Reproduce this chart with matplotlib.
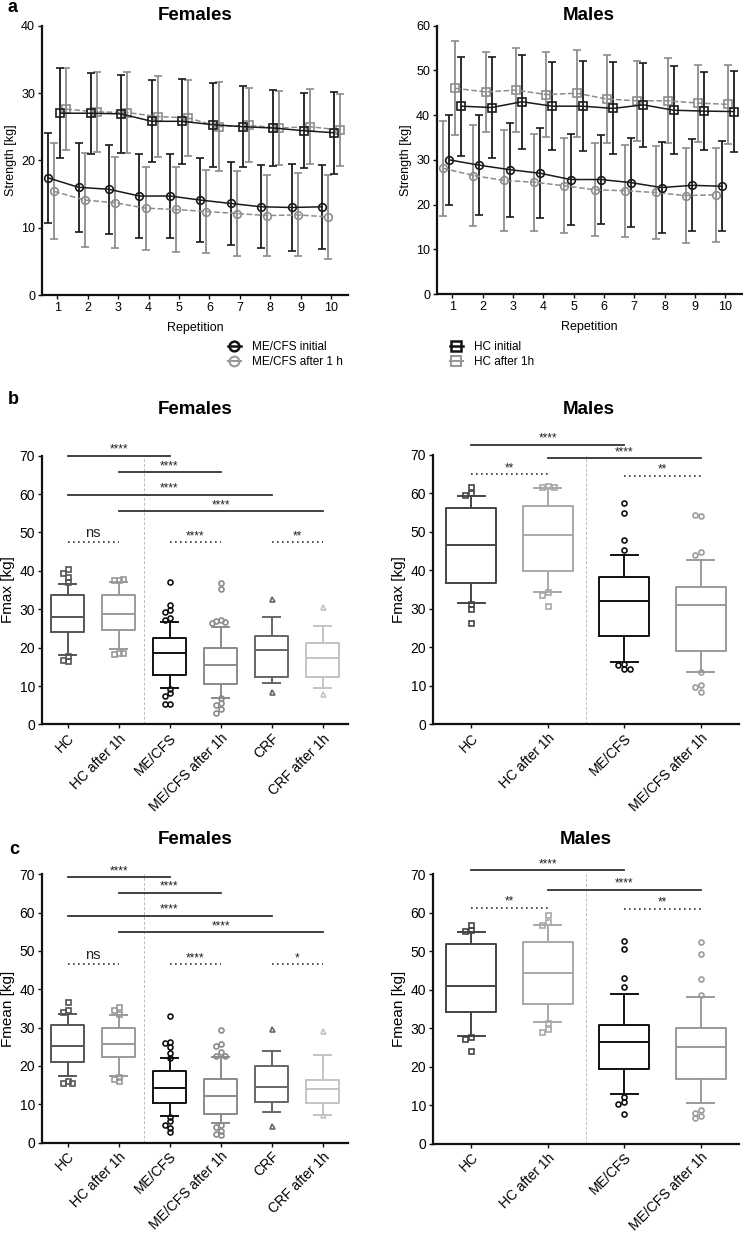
import numpy as np
import matplotlib
matplotlib.use("Agg")
import matplotlib.pyplot as plt
from matplotlib.lines import Line2D

plt.rcParams['font.family'] = ['Liberation Sans', 'DejaVu Sans']

W, H = 743, 1238

#...panel a: mean strength per repetition (and SD).
reps = np.arange(1, 11)

fa_me_init = [17.4, 16.0, 15.7, 14.7, 14.7, 14.1, 13.6, 13.1, 13.0, 13.1]
fa_me_init_sd = [6.7, 6.6, 6.6, 6.2, 6.3, 6.3, 6.1, 6.15, 6.4, 6.25]
fa_me_after = [15.4, 14.1, 13.7, 12.9, 12.7, 12.4, 12.1, 11.8, 11.9, 11.6]
fa_me_after_sd = [7.15, 7.0, 6.75, 6.15, 6.35, 6.1, 6.3, 5.95, 6.15, 6.25]
fa_hc_init = [27.0, 27.0, 26.9, 25.8, 25.8, 25.3, 25.0, 24.8, 24.4, 24.1]
fa_hc_init_sd = [6.7, 6.0, 5.8, 6.1, 6.3, 6.25, 6.0, 5.7, 5.6, 6.1]
fa_hc_after = [27.6, 27.2, 27.1, 26.5, 26.3, 25.0, 25.2, 24.8, 25.0, 24.5]
fa_hc_after_sd = [6.1, 5.95, 5.95, 6.0, 5.7, 6.65, 5.5, 5.45, 5.55, 5.35]

ma_me_init = [30.0, 28.8, 27.8, 27.0, 25.6, 25.6, 24.9, 23.8, 24.3, 24.1]
ma_me_init_sd = [10.0, 11.2, 10.5, 10.1, 10.2, 10.0, 10.0, 10.1, 10.3, 10.1]
ma_me_after = [28.1, 26.5, 25.4, 25.0, 24.2, 23.3, 23.1, 22.7, 22.0, 22.2]
ma_me_after_sd = [10.6, 11.3, 11.2, 10.8, 10.6, 10.4, 10.3, 10.3, 10.6, 10.5]
ma_hc_init = [42.0, 41.7, 43.0, 42.0, 42.0, 41.5, 42.3, 41.1, 40.9, 40.8]
ma_hc_init_sd = [11.1, 11.2, 10.5, 9.9, 10.0, 10.3, 9.4, 9.8, 8.8, 9.0]
ma_hc_after = [46.0, 45.2, 45.6, 44.6, 44.9, 43.6, 43.2, 43.2, 42.7, 42.4]
ma_hc_after_sd = [10.5, 9.0, 9.4, 9.5, 9.7, 9.8, 8.9, 9.5, 8.6, 8.9]

#...panels b and c: box plot summaries.
f_groups = ["HC", "HC after 1h", "ME/CFS", "ME/CFS after 1h", "CRF", "CRF after 1h"]
m_groups = ["HC", "HC after 1h", "ME/CFS", "ME/CFS after 1h"]

# Fmax, females
fb_q1 = [24.2, 24.7, 12.9, 10.5, 12.3, 12.4]
fb_med = [28.0, 28.8, 18.5, 15.5, 19.4, 17.2]
fb_q3 = [33.7, 33.7, 22.5, 19.8, 23.1, 21.3]
fb_lo = [18.1, 19.6, 9.6, 6.9, 10.9, 9.4]
fb_hi = [36.5, 37.2, 26.6, 25.5, 28.1, 25.7]
fb_fliers = [[40.4, 39.4, 38.4, 37.0, 17.9, 16.8, 16.4],
             [37.7, 37.6, 37.8, 18.5, 18.4, 18.6],
             [37.0, 31.2, 29.8, 29.4, 27.6, 27.2, 9.3, 8.2, 7.5, 5.3, 5.2],
             [36.8, 35.2, 27.3, 27.0, 26.6, 26.4, 6.8, 5.5, 5.0, 3.9, 3.0],
             [32.6, 8.4],
             [30.5, 7.8]]

# Fmax, males
mb_q1 = [36.7, 39.7, 23.0, 19.0]
mb_med = [46.6, 49.1, 32.1, 30.9]
mb_q3 = [56.1, 56.7, 38.3, 35.6]
mb_lo = [31.4, 34.4, 16.2, 13.5]
mb_hi = [59.4, 61.3, 44.0, 42.8]
mb_fliers = [[61.8, 60.1, 59.5, 31.2, 30.0, 26.3],
             [61.9, 61.6, 61.8, 34.3, 33.6, 30.8],
             [57.5, 54.8, 47.9, 45.3, 15.5, 15.3, 14.4, 14.2],
             [54.2, 54.3, 44.8, 44.0, 13.5, 10.2, 9.7, 8.3]]

# Fmean, females
fc_q1 = [20.9, 22.2, 10.3, 7.5, 10.5, 10.4]
fc_med = [25.1, 25.7, 14.1, 12.1, 14.6, 14.0]
fc_q3 = [30.7, 29.8, 18.7, 16.5, 20.0, 16.4]
fc_lo = [17.3, 17.4, 7.0, 5.2, 8.0, 7.2]
fc_hi = [33.5, 33.4, 22.0, 22.4, 23.9, 22.8]
fc_fliers = [[36.8, 34.7, 34.0, 16.0, 15.4, 15.4],
             [35.4, 34.7, 33.6, 17.2, 16.7, 16.0],
             [33.0, 26.3, 25.9, 24.8, 23.3, 22.0, 6.7, 5.6, 4.6, 3.9, 2.7],
             [29.3, 25.6, 25.3, 23.5, 22.7, 22.6, 4.6, 4.0, 3.1, 2.3, 1.9],
             [29.6, 4.4],
             [29.0, 7.2]]

# Fmean, males
mc_q1 = [34.3, 36.3, 19.5, 16.7]
mc_med = [41.0, 44.3, 26.5, 25.2]
mc_q3 = [52.0, 52.4, 30.7, 30.0]
mc_lo = [28.0, 31.5, 12.9, 10.5]
mc_hi = [55.0, 56.8, 38.9, 38.2]
mc_fliers = [[56.7, 55.6, 55.3, 27.6, 27.2, 24.0],
             [59.3, 57.6, 56.8, 31.4, 29.9, 28.9],
             [52.7, 50.6, 43.0, 40.8, 12.2, 10.9, 10.3, 7.7],
             [52.4, 49.2, 42.7, 38.6, 8.6, 7.9, 7.2, 6.7]]

#...significance annotations: (group from, group to, y, label, solid?)
fb_sig = [(0, 2, 70.0, "****", True), (1, 3, 65.7, "****", True),
          (0, 4, 59.8, "****", True), (1, 5, 55.6, "****", True),
          (0, 1, 47.5, "ns", False), (2, 3, 47.5, "****", False),
          (4, 5, 47.5, "**", False)]
mb_sig = [(0, 2, 72.7, "****", True), (1, 3, 69.2, "****", True),
          (0, 1, 65.0, "**", False), (2, 3, 64.6, "**", False)]
fc_sig = [(0, 2, 69.2, "****", True), (1, 3, 65.2, "****", True),
          (0, 4, 59.2, "****", True), (1, 5, 54.9, "****", True),
          (0, 1, 46.6, "ns", False), (2, 3, 46.6, "****", False),
          (4, 5, 46.6, "*", False)]
mc_sig = [(0, 2, 71.1, "****", True), (1, 3, 66.0, "****", True),
          (0, 1, 61.3, "**", False), (2, 3, 61.0, "**", False)]

f_colors = ['#555555', '#9a9a9a', '#111111', '#8a8a8a', '#666666', '#c4c4c4']
m_colors = ['#444444', '#a8a8a8', '#111111', '#9a9a9a']
f_markers = ['s', 's', 'o', 'o', '^', '^']
m_markers = ['s', 's', 'o', 'o']


def rect(l, r, t, b):
    """ Pixel box -> figure fraction rectangle. """
    return [l / W, 1 - b / H, (r - l) / W, (b - t) / H]


def style_axes(ax, fs):
    for s in ['top', 'right']:
        ax.spines[s].set_visible(False)
    for s in ['left', 'bottom']:
        ax.spines[s].set_linewidth(1.6)
        ax.spines[s].set_color('#111111')
    ax.tick_params(axis='both', length=3, width=1, labelsize=fs, pad=2, color='#111111')


def draw_lines(ax, series, ymax):
    """ Panel a: mean +- SD curves. """
    for vals, sd, off, col, ls, mk in series:
        ax.errorbar(reps + off, vals, yerr=sd, color=col, ls=ls, lw=1.1,
                    marker=mk, ms=5.5, mfc='none', mew=1.2, elinewidth=1.3,
                    capsize=3, capthick=1.3)
    ax.set_xlim(0.5, 10.55)
    ax.set_ylim(0, ymax)
    ax.set_xticks(reps)
    ax.set_yticks(np.arange(0, ymax + 1, 10))
    ax.set_xlabel("Repetition", fontsize=9, labelpad=6)
    ax.set_ylabel("Strength [kg]", fontsize=9, labelpad=3)
    style_axes(ax, 9)


def dodge(vals, step=0.08):
    """ Spread overlapping outliers sideways. """
    placed = []
    offs = []
    for v in vals:
        for o in [0, -step, step, -2 * step, 2 * step]:
            if all(abs(v - pv) > 1.1 or abs(o - po) > 0.05 for po, pv in placed):
                break
        placed.append((o, v))
        offs.append(o)
    return np.array(offs)


def draw_boxes(ax, names, q1, med, q3, lo, hi, fliers, colors, markers, sig, ylabel):
    pos = np.arange(len(names))
    for i in pos:
        st = dict(med=med[i], q1=q1[i], q3=q3[i], whislo=lo[i], whishi=hi[i], fliers=[])
        c = colors[i]
        lp = dict(color=c, lw=1.4)
        ax.bxp([st], positions=[i], widths=0.66, capwidths=0.35, showfliers=False,
               manage_ticks=False, boxprops=lp, medianprops=lp,
               whiskerprops=lp, capprops=lp)
        fv = np.array(fliers[i])
        ax.plot(i + dodge(fv), fv, ls='none', marker=markers[i], mfc='none',
                mec=c, ms=3.6, mew=1.2, clip_on=False)
    ax.axvline(1.5, color='#bbbbbb', lw=0.7, ls=(0, (3, 2)))
    for a, b, y, lab, solid in sig:
        if solid:
            ax.plot([a, b], [y, y], color='#333333', lw=1.3, clip_on=False)
        else:
            ax.plot([a, b], [y, y], color='#333333', lw=1.2, ls=(0, (1, 2)), clip_on=False)
        fs = 10.5 if lab == "ns" else 8.5
        ax.text((a + b) / 2, y + (0.6 if lab == "ns" else 0.0), lab, ha='center',
                va='bottom', fontsize=fs, color='#222222')
    ax.set_xlim(-0.5, len(names) - 0.5)
    ax.set_ylim(0, 70)
    ax.set_yticks(np.arange(0, 71, 10))
    ax.set_xticks(pos)
    ax.set_xticklabels(names, rotation=45, ha='right', rotation_mode='anchor')
    ax.set_ylabel(ylabel, fontsize=11, labelpad=3)
    style_axes(ax, 10)


fig = plt.figure(figsize=(W / 100, H / 100), dpi=100)

#==========
# Panel a
#==========
ax_af = fig.add_axes(rect(42, 348, 25.7, 295))
draw_lines(ax_af, [
    (fa_me_after, fa_me_after_sd, -0.1, '#8c8c8c', '--', 'o'),
    (fa_hc_after, fa_hc_after_sd, 0.3, '#8c8c8c', '--', 's'),
    (fa_me_init, fa_me_init_sd, -0.3, '#1a1a1a', '-', 'o'),
    (fa_hc_init, fa_hc_init_sd, 0.1, '#1a1a1a', '-', 's')], 40)

ax_am = fig.add_axes(rect(437, 742, 25.7, 294))
draw_lines(ax_am, [
    (ma_me_after, ma_me_after_sd, -0.3, '#8c8c8c', '--', 'o'),
    (ma_hc_after, ma_hc_after_sd, 0.1, '#8c8c8c', '--', 's'),
    (ma_me_init, ma_me_init_sd, -0.1, '#1a1a1a', '-', 'o'),
    (ma_hc_init, ma_hc_init_sd, 0.3, '#1a1a1a', '-', 's')], 60)

# Legend (two columns drawn as two legends).
lkw = dict(frameon=False, fontsize=8.5, handlelength=1.1, handletextpad=0.9,
           labelspacing=0.25, borderpad=0, borderaxespad=0, loc='upper left')
h1 = [Line2D([], [], color='#111111', marker='o', mfc='none', ms=7, mew=1.8, lw=1.8),
      Line2D([], [], color='#999999', marker='o', mfc='none', ms=7, mew=1.5, lw=1.5)]
h2 = [Line2D([], [], color='#111111', marker='s', mfc='none', ms=7, mew=1.8, lw=1.8),
      Line2D([], [], color='#999999', marker='s', mfc='none', ms=7, mew=1.5, lw=1.5)]
fig.legend(h1, ["ME/CFS initial", "ME/CFS after 1 h"], bbox_to_anchor=(228 / W, 1 - 341 / H), **lkw)
fig.legend(h2, ["HC initial", "HC after 1h"], bbox_to_anchor=(450 / W, 1 - 341 / H), **lkw)

#==========
# Panel b
#==========
ax_bf = fig.add_axes(rect(42, 348, 455.7, 724.4))
draw_boxes(ax_bf, f_groups, fb_q1, fb_med, fb_q3, fb_lo, fb_hi, fb_fliers,
           f_colors, f_markers, fb_sig, "Fmax [kg]")
ax_bm = fig.add_axes(rect(433, 739, 455, 724))
draw_boxes(ax_bm, m_groups, mb_q1, mb_med, mb_q3, mb_lo, mb_hi, mb_fliers,
           m_colors, m_markers, mb_sig, "Fmax [kg]")

#==========
# Panel c
#==========
ax_cf = fig.add_axes(rect(42, 348, 874.3, 1142.5))
draw_boxes(ax_cf, f_groups, fc_q1, fc_med, fc_q3, fc_lo, fc_hi, fc_fliers,
           f_colors, f_markers, fc_sig, "Fmean [kg]")
ax_cm = fig.add_axes(rect(433, 739, 874.3, 1143.5))
draw_boxes(ax_cm, m_groups, mc_q1, mc_med, mc_q3, mc_lo, mc_hi, mc_fliers,
           m_colors, m_markers, mc_sig, "Fmean [kg]")

# Titles and panel letters.
tkw = dict(ha='center', va='center', fontsize=13.5, fontweight='bold')
for x, y, s in [(195, 15, "Females"), (589, 15, "Males"),
                (195, 410, "Females"), (589, 410, "Males"),
                (195, 840, "Females"), (586, 840, "Males")]:
    fig.text(x / W, 1 - y / H, s, **tkw)
for x, y, s in [(13, 8, "a"), (13, 400, "b"), (14, 850, "c")]:
    fig.text(x / W, 1 - y / H, s, ha='center', va='center', fontsize=13, fontweight='bold')

fig.savefig("out.png", dpi=100)
